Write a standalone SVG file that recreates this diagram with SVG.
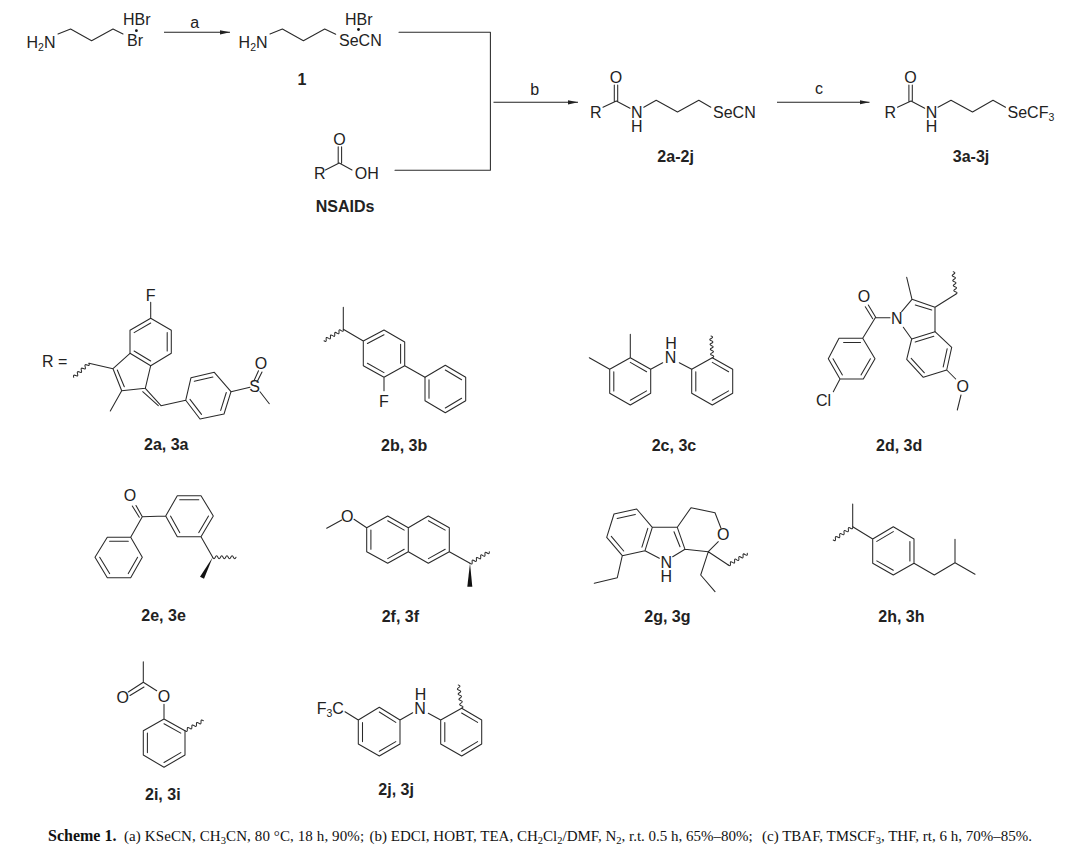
<svg xmlns="http://www.w3.org/2000/svg" width="1079" height="854" viewBox="0 0 1079 854">
<defs>
<style>
.b{fill:none;stroke:#2a2a2a;stroke-width:1.05;stroke-linejoin:round;stroke-linecap:round}
.w{fill:#111;stroke:none}
.t{font-family:"Liberation Sans",Arial,sans-serif;font-size:16px;fill:#222}
.m{text-anchor:middle}
.l{font-family:"Liberation Sans",Arial,sans-serif;font-size:16px;font-weight:bold;fill:#222}
.c{font-family:"Liberation Serif","Times New Roman",serif;font-size:15px;fill:#111}
.a{fill:none;stroke:#222;stroke-width:1.1;marker-end:url(#ah)}
</style>
<marker id="ah" markerUnits="userSpaceOnUse" markerWidth="11" markerHeight="6" refX="10" refY="3" orient="auto"><path d="M0 .9L10 3L0 5.1z" fill="#222"/></marker>
</defs>
<rect width="1079" height="854" fill="#fff"/>
<g id="connectors">
<path class="a" d="M164 32.3H230"/>
<path class="b" d="M399 32.3H490.4V170.3H395"/>
<path class="a" d="M493.5 102.3H578"/>
<path class="a" d="M777 102.3H869.5"/>
<text class="t m" x="194.6" y="27.5">a</text>
<text class="t m" x="534.8" y="95">b</text>
<text class="t m" x="819" y="93.5">c</text>
</g>
<g id="start">
<path class="b" d="M58 34L70.6 29L91.6 40.7L113 29L123 34"/>
<text class="t" x="26.5" y="47.5">H<tspan font-size="10.5" dy="3">2</tspan><tspan dy="-3">N</tspan></text>
<text class="t" x="123" y="25.3">HBr<tspan x="127" dy="20.7">Br</tspan></text>
<circle cx="136.4" cy="30.7" r="1.4" fill="#111"/>
</g>
<g id="compound-1">
<path class="b" d="M270 34L282.4 29L303.4 40.7L324.7 29L335.7 34.3"/>
<text class="t" x="238.6" y="47.5">H<tspan font-size="10.5" dy="3">2</tspan><tspan dy="-3">N</tspan></text>
<text class="t" x="345" y="25.3">HBr<tspan x="339" dy="20.7">SeCN</tspan></text>
<circle cx="358.5" cy="29.5" r="1.4" fill="#111"/>
<text class="l m" x="302" y="84.7">1</text>
</g>
<g id="nsaids">
<path class="b" d="M325.4 170L339.2 163L352 170M338.2 163V146.7M341.6 163V146.7"/>
<text class="t" x="314" y="179.3">R</text>
<text class="t m" x="339.6" y="144.7">O</text>
<text class="t" x="354.7" y="179.3">OH</text>
<text class="l" x="315.8" y="212">NSAIDs</text>
</g>
<g id="compound-2">
<path class="b" d="M603 107.3L616.3 101L630 108.3M614.3 101V85M617.7 101V85M643.8 107.3L656.2 100.3L677.5 112L698.8 100.3L710.8 107.3"/>
<text class="t" x="590" y="118.3">R</text>
<text class="t m" x="616" y="82.7">O</text>
<text class="t" x="631" y="118.3">N<tspan x="631" dy="13.7">H</tspan></text>
<text class="t" x="713" y="118.3">SeCN</text>
<text class="l m" x="675.6" y="162.3">2a-2j</text>
</g>
<g id="compound-3">
<path class="b" d="M897.5 107.3L911 101L924.7 108.3M908.9 101V85M912.3 101V85M938 107.3L951 100.3L972.5 112L993 100.3L1005.5 107.3"/>
<text class="t" x="884.5" y="118.3">R</text>
<text class="t m" x="910.4" y="82.7">O</text>
<text class="t" x="925.7" y="118.3">N<tspan x="925.7" dy="13.7">H</tspan></text>
<text class="t" x="1007.5" y="118.3">SeCF<tspan font-size="10.5" dy="3">3</tspan></text>
<text class="l m" x="971" y="162.3">3a-3j</text>
</g>
<g id="r-2a">
<text class="t" x="42" y="367">R =</text>
<path class="b" d="M150.7 302.3V318.3L171.3 330.3V353.3L150.7 365.7L130 353.3V330.3L150.7 318.3M134.1 332.6L150.7 323M167.2 332.6V351M134.1 351L150.7 361"/>
<path class="b" d="M130 353.3L113 368.7L121.7 390.7L145.3 388.3L150.7 365.7M117.3 370L124.3 386.7M113 368.7L89 363.3M121.7 390.7L110.3 411"/>
<path class="b" d="M89 363.3q1.07 3.1 -1.91 1.75t-1.91 1.75t-1.91 1.75t-1.91 1.75t-1.91 1.75t-1.91 1.75t-1.91 1.75t-1.91 1.75"/>
<path class="b" d="M145.3 388.3L161 405.7L185.7 400.3L191 377.7L214.3 372.3L231 391.7L224 414L200 419L185.7 400.3M142.7 391.7L158.3 405.7M194.3 381.3L212.9 377M226.3 392.5L220.7 410.4M190 399.4L201.5 414.4"/>
<path class="b" d="M231 391.7L250 387.3M260 391.7L269.3 403.7M254 380.7L258.5 370.7M257 382L262 372"/>
<text class="t m" x="150.7" y="300.7">F</text>
<text class="t m" x="254.7" y="391.7">S</text>
<text class="t m" x="261" y="369.3">O</text>
<text class="l" x="144" y="450">2a, 3a</text>
</g>
<g id="r-2b">
<path class="b" d="M343.3 307.3V329.3L363.3 341L384 330L404.7 342V365.7L384 377.3L363.3 365.7V341M367.4 343.5L384 334.7M400.6 344.3V363.3M367.4 363.3L384 372.6M384 377.3V390.7M404.7 365.7L425 377.3"/>
<path class="b" d="M343.3 329.3q.46 3.21 -2.14 1.27t-2.14 1.27t-2.14 1.27t-2.14 1.27t-2.14 1.27t-2.14 1.27t-2.14 1.27t-2.14 1.27t-2.14 1.27"/>
<path class="b" d="M425 377.3L445.3 365.3L465.7 377.3V400.7L445.3 412.7L425 400.7ZM445.3 370L461.6 379.7M461.6 398.3L445.3 408M429 379.7V398.3"/>
<text class="t m" x="384" y="406.7">F</text>
<text class="l" x="381" y="451">2b, 3b</text>
</g>
<g id="r-2c">
<path class="b" d="M589.3 357.7L609.7 369.3M630.3 334.3V357.7M609.7 369.3L630.3 357.7L650.7 369.3V393.3L630.3 405L609.7 393.3ZM630.3 362.4L646.6 371.7M646.6 390.9L630.3 400.3M613.8 371.7V390.9M650.7 369.3L662.7 362.7M679.3 362.7L691.7 369.3"/>
<path class="b" d="M691.7 369.3L712.3 357.7L732.7 369.3V393.3L712.3 405L691.7 393.3ZM712.3 362.4L728.6 371.7M728.6 390.9L712.3 400.3M695.8 371.7V390.9"/>
<path class="b" d="M712.3 357.7q2.93 -1.38 -.14 -2.41t-.14 -2.41t-.14 -2.41t-.14 -2.41t-.14 -2.41t-.14 -2.41t-.14 -2.41t-.14 -2.41t-.14 -2.41"/>
<text class="t m" x="671" y="349.3">H<tspan x="670.5" dy="14">N</tspan></text>
<text class="l" x="651.7" y="451">2c, 3c</text>
</g>
<g id="r-2d">
<path class="b" d="M901.7 311.7L912 299.3L935 307.3V331.7L911.7 339L903.3 327.3M915.3 305L931.7 310M912 299.3L906.7 277.3M935 307.3L955.7 294.3"/>
<path class="b" d="M955.7 294.3q2.85 -1.58 -.27 -2.51t-.27 -2.51t-.27 -2.51t-.27 -2.51t-.27 -2.51t-.27 -2.51t-.27 -2.51t-.27 -2.51t-.27 -2.51"/>
<path class="b" d="M935 331.7L951.7 347.3L946.7 370L923.3 377.3L906.7 359.3L911.7 339M933.8 336.3L915.2 342M947.2 348.7L943.2 366.9M924.4 372.8L911.2 358.3M946.7 370L955.7 379M961 395L957.3 410"/>
<path class="b" d="M890 317.7H875.3L862.7 338.3H839L828.3 358.7L840 379H863.3L875 358.7L862.7 338.3M843.6 342.4H860.5M833 358.7L842.4 374.9M861 374.9L870.4 358.7M840 379L833.3 391.7M876 317.7L868.3 305M872.7 318.7L865.3 306.7"/>
<text class="t m" x="896.7" y="324">N</text>
<text class="t m" x="962.7" y="391.7">O</text>
<text class="t m" x="864" y="302.3">O</text>
<text class="t" x="816" y="405.7">Cl</text>
<text class="l" x="876" y="451">2d, 3d</text>
</g>
<g id="r-2e">
<path class="b" d="M142.3 516.7L136 505.5M139.3 517.3L132.3 506M142.3 516.7L165.7 516L177.3 495.7H201L213.3 516L201 536.7H177.3L165.7 516M179.7 499.8H198.8M208.5 516L198.8 532.6M170.5 516.1L179.7 532.6M142.3 516.7L130.7 537.3H107.3L95 557.3L107.3 577.7H130.7L142.3 557.3L130.7 537.3M109.6 541.3H128.3M99.7 557.3L109.6 573.6M128.3 573.6L137.6 557.3M201 536.7L212.7 557.3"/>
<path class="b" d="M212.7 557.3q1.3 3 2.59 0t2.59 0t2.59 0t2.59 0t2.59 0t2.59 0t2.59 0t2.59 0t2.59 0"/>
<path class="w" d="M212.7 557.3L200 576.7L204 578.7Z"/>
<text class="t m" x="130" y="500.7">O</text>
<text class="l" x="141.3" y="621">2e, 3e</text>
</g>
<g id="r-2f">
<path class="b" d="M326.7 528.3L341.7 520M354 519.3L366.7 527.7L387.7 516L408.3 527.7V551.7L387.7 563.3L366.7 551.7V527.7M387.7 520.7L404.2 530.1M370.9 530.1V549.3M387.7 558.6L404.2 549.3M408.3 527.7L428.3 516L449.3 527.7V551.7L428.3 563.3L408.3 551.7M428.4 520.7L445.2 530.1M428.4 558.6L445.2 549.3M449.3 551.7L470 563.3"/>
<path class="b" d="M470 563.3q2.62 1.93 2.14 -1.29t2.14 -1.29t2.14 -1.29t2.14 -1.29t2.14 -1.29t2.14 -1.29t2.14 -1.29t2.14 -1.29t2.14 -1.29"/>
<path class="w" d="M470 563.3L467.3 586.7H472.3Z"/>
<text class="t m" x="347.3" y="521.7">O</text>
<text class="l" x="381.7" y="622">2f, 3f</text>
</g>
<g id="r-2g">
<path class="b" d="M614 514L636.7 509L652.3 527.3L645 550.7L622.3 555.7L606.7 537.3ZM617.1 518.4L635.3 514.4M647.8 528.3L641.9 547.1M623.7 551L611.3 536.3M652.3 527.3H677.3L685 549.3M674 531.7L680 546.7M645 550.7L659.3 558.3M685 549.3L672.7 556.7M677.3 527.3L691 507.7L715 512.7L721 528.3M718.3 541.7L708.3 551.7L685 549.3M708.3 551.7L728.3 565M708.3 551.7L700.7 575L715 591.7M622.3 555.7L617.3 577.7L594.3 583.3"/>
<path class="b" d="M728.3 565q2.62 1.9 2.11 -1.3t2.11 -1.3t2.11 -1.3t2.11 -1.3t2.11 -1.3t2.11 -1.3t2.11 -1.3t2.11 -1.3t2.11 -1.3"/>
<text class="t m" x="723.3" y="540">O</text>
<text class="t m" x="666.3" y="567.7">N<tspan x="666.3" dy="14.6">H</tspan></text>
<text class="l" x="644.3" y="621.7">2g, 3g</text>
</g>
<g id="r-2h">
<path class="b" d="M852.7 504V526.7L872.7 539L893.3 526.7L914 539V563.3L893.3 575L872.7 563.3V539M876.8 541.4L893.3 531.6M909.9 541.4V561M876.8 560.9L893.3 570.2M914 563.3L934.3 575L955 562.7V539.3M955 562.7L975 574.3"/>
<path class="b" d="M852.7 526.7q.62 3.21 -2.16 1.48t-2.16 1.48t-2.16 1.48t-2.16 1.48t-2.16 1.48t-2.16 1.48t-2.16 1.48t-2.16 1.48t-2.16 1.48"/>
<text class="l" x="878.3" y="621.7">2h, 3h</text>
</g>
<g id="r-2i">
<path class="b" d="M143.3 661.7V682.3L156.7 690.7M128.3 692L143.3 682.3M130 695.5L144 687M164 704.3V719L185 730.7V755L164 767.3L143.3 755V730.7L164 719M147.4 733.1V752.6M164 723.8L180.8 733.1M180.8 752.6L164 762.5"/>
<path class="b" d="M185 730.7q2.58 2.02 2.29 -1.25t2.29 -1.25t2.29 -1.25t2.29 -1.25t2.29 -1.25t2.29 -1.25t2.29 -1.25t2.29 -1.25"/>
<text class="t m" x="164" y="702.3">O</text>
<text class="t m" x="122.7" y="702.7">O</text>
<text class="l" x="145" y="800">2i, 3i</text>
</g>
<g id="r-2j">
<path class="b" d="M345 711.7L358.3 720L379.3 707.3L400 720V744L379.3 756L358.3 744V720M362.5 722.4V741.6M379.3 712L395.8 722.4M395.8 741.6L379.3 751.2M400 720L412.7 712.7M428.3 713.3L440.7 720L461.7 708.3L481.7 720V744L461.7 756L440.7 744V720M461.6 713L477.6 722.4M444.8 722.4V741.6M477.6 741.6L461.6 751.2"/>
<path class="b" d="M461.7 708.3q2.78 -1.72 -.38 -2.59t-.38 -2.59t-.38 -2.59t-.38 -2.59t-.38 -2.59t-.38 -2.59t-.38 -2.59t-.38 -2.59t-.38 -2.59"/>
<text class="t" x="316.7" y="714.3">F<tspan font-size="10.5" dy="3">3</tspan><tspan dy="-3">C</tspan></text>
<text class="t m" x="420.5" y="700">H<tspan x="420" dy="14.3">N</tspan></text>
<text class="l" x="378.3" y="795">2j, 3j</text>
</g>
<text class="c" x="48" y="840.5"><tspan font-weight="bold" font-size="16">Scheme 1.</tspan><tspan x="124" letter-spacing=".1">(a) KSeCN, CH</tspan><tspan font-size="10.5" dy="3" letter-spacing=".1">3</tspan><tspan dy="-3" letter-spacing=".1">CN, 80 °C, 18 h, 90%;</tspan><tspan x="369.6">(b) EDCI, HOBT, TEA, CH</tspan><tspan font-size="10.5" dy="3">2</tspan><tspan dy="-3">Cl</tspan><tspan font-size="10.5" dy="3">2</tspan><tspan dy="-3">/DMF, N</tspan><tspan font-size="10.5" dy="3">2</tspan><tspan dy="-3">, r.t. 0.5 h, 65%–80%;</tspan><tspan x="762">(c) TBAF, TMSCF</tspan><tspan font-size="10.5" dy="3">3</tspan><tspan dy="-3">, THF, rt, 6 h, 70%–85%.</tspan></text>
</svg>
